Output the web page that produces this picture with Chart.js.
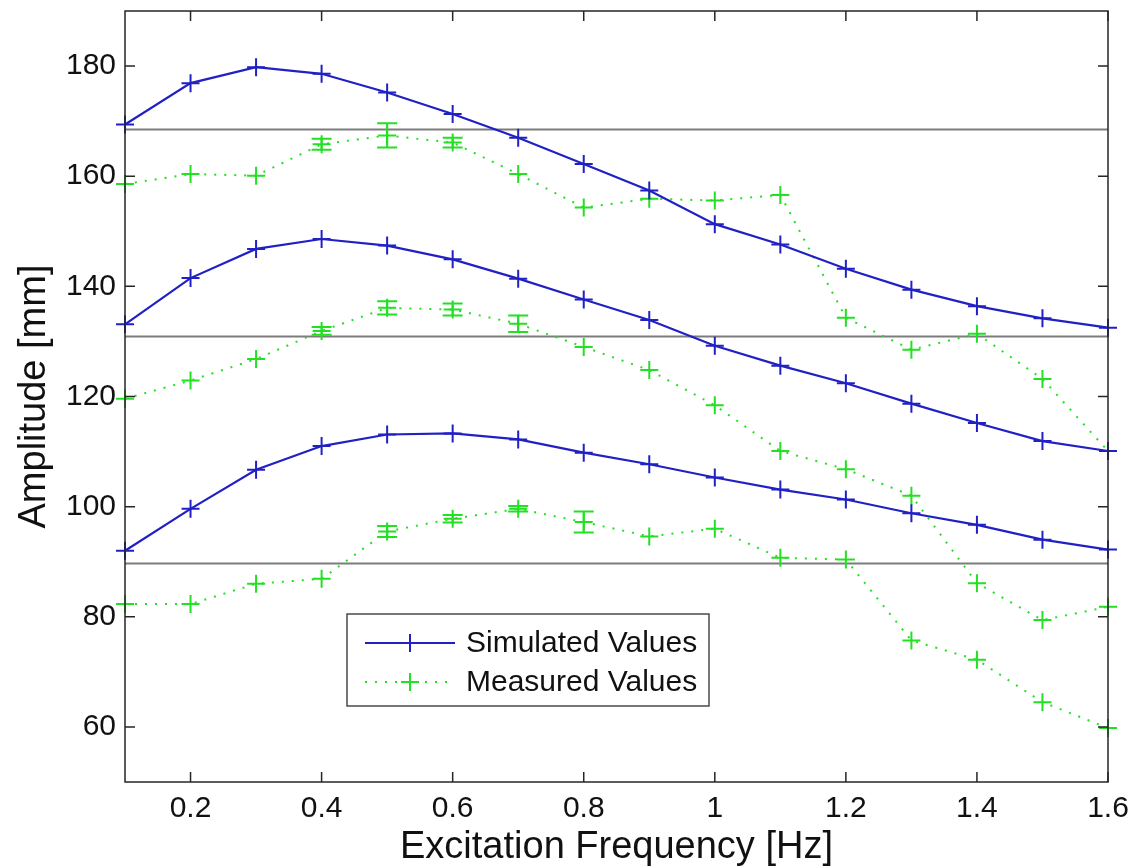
<!DOCTYPE html>
<html>
<head>
<meta charset="utf-8">
<title>Amplitude vs Excitation Frequency</title>
<script src="https://cdn.jsdelivr.net/npm/chart.js@4.4.1/dist/chart.umd.min.js"></script>
<style>
  html, body { margin: 0; padding: 0; background: #fff; }
  #wrap { width: 1134px; height: 868px; }
</style>
</head>
<body>
<div id="wrap"><canvas id="chart" width="1134" height="868"></canvas></div>
<script>
// excitation frequencies [Hz]
const freq = [0.1, 0.2, 0.3, 0.4, 0.5, 0.6, 0.7, 0.8, 0.9, 1.0, 1.1, 1.2, 1.3, 1.4, 1.5, 1.6];
const xTicks = [0.2, 0.4, 0.6, 0.8, 1, 1.2, 1.4, 1.6];
const yTicks = [60, 80, 100, 120, 140, 160, 180];

// simulated amplitudes [mm], three excitation levels
const simHigh = [169.4, 176.9, 179.8, 178.6, 175.2, 171.3, 167.0, 162.2, 157.4, 151.3, 147.6, 143.2, 139.4, 136.4, 134.2, 132.5];
const simMid  = [133.1, 141.5, 146.8, 148.6, 147.4, 144.9, 141.4, 137.6, 133.9, 129.2, 125.6, 122.4, 118.7, 115.2, 111.9, 110.1];
const simLow  = [92.0, 99.6, 106.7, 111.0, 113.1, 113.3, 112.2, 109.8, 107.7, 105.3, 103.1, 101.3, 98.8, 96.7, 94.0, 92.2];

// measured amplitudes [mm]
const measHigh = [158.6, 160.4, 160.1, 165.8, 167.4, 166.1, 160.4, 154.3, 155.9, 155.6, 156.6, 134.3, 128.5, 131.4, 123.2, 110.1];
const measMid  = [119.6, 122.9, 126.8, 131.9, 136.1, 135.8, 133.2, 129.0, 124.8, 118.4, 110.1, 106.8, 102.0, 86.1, 79.4, 81.8];
const measLow  = [82.3, 82.3, 86.0, 86.9, 95.5, 97.8, 99.6, 97.2, 94.6, 96.0, 90.7, 90.4, 75.7, 72.2, 64.5, 59.8];

// error bar half-lengths [mm] (0 = no bar)
const errHigh = [0, 0, 0, 1.0, 2.2, 0.9, 0, 0, 0, 0, 0, 0, 0, 0, 0, 0];
const errMid  = [0, 0, 0, 0.7, 1.2, 1.1, 1.5, 0, 0, 0, 0, 0, 0, 0, 0, 0];
const errLow  = [0, 0, 0, 0, 1.0, 0.7, 0.5, 1.9, 0, 0, 0, 0, 0, 0, 0, 0];

// horizontal reference levels [mm]
const refLevels = [168.5, 131.0, 89.7];

const BLUE = '#2020c4';
const GREEN = '#22e022';
const FONT = "'Liberation Sans', Arial, Helvetica, sans-serif";

function simSet(label, values) {
  return {
    label,
    data: values.map((v, i) => ({ x: freq[i], y: v })),
    borderColor: BLUE,
    backgroundColor: BLUE,
    borderWidth: 2.2,
    pointStyle: 'cross',
    pointRadius: 9,
    pointBorderWidth: 2,
    tension: 0,
    clip: false
  };
}

function measSet(label, values, errors) {
  return {
    label,
    data: values.map((v, i) => ({ x: freq[i], y: v })),
    errors,
    borderColor: GREEN,
    backgroundColor: GREEN,
    borderWidth: 2,
    borderDash: [2, 8],
    pointStyle: 'cross',
    pointRadius: 9,
    pointBorderWidth: 2,
    tension: 0,
    clip: false
  };
}

// reference lines, error bars, box with inward ticks, legend
const matlabLook = {
  id: 'matlabLook',
  beforeDatasetsDraw(chart) {
    const { ctx, chartArea: a, scales: { y } } = chart;
    ctx.save();
    ctx.strokeStyle = '#7c7c7c';
    ctx.lineWidth = 2;
    refLevels.forEach(v => {
      const py = Math.round(y.getPixelForValue(v)) + 0.5;
      ctx.beginPath();
      ctx.moveTo(a.left, py);
      ctx.lineTo(a.right, py);
      ctx.stroke();
    });
    ctx.restore();
  },
  afterDatasetsDraw(chart) {
    const { ctx, chartArea: a, scales: { x, y } } = chart;
    ctx.save();

    // error bars
    ctx.strokeStyle = GREEN;
    ctx.lineWidth = 2;
    chart.data.datasets.forEach(ds => {
      if (!ds.errors) return;
      ds.data.forEach((p, i) => {
        const e = ds.errors[i];
        if (!e) return;
        const px = x.getPixelForValue(p.x);
        const y1 = y.getPixelForValue(p.y - e);
        const y2 = y.getPixelForValue(p.y + e);
        ctx.beginPath();
        ctx.moveTo(px, y1); ctx.lineTo(px, y2);
        ctx.moveTo(px - 10, y1); ctx.lineTo(px + 10, y1);
        ctx.moveTo(px - 10, y2); ctx.lineTo(px + 10, y2);
        ctx.stroke();
      });
    });

    // axes box
    ctx.strokeStyle = '#262626';
    ctx.lineWidth = 1.5;
    ctx.strokeRect(a.left, a.top, a.right - a.left, a.bottom - a.top);

    // inward tick marks on all four sides
    const tl = 10;
    ctx.beginPath();
    xTicks.forEach(v => {
      const px = x.getPixelForValue(v);
      ctx.moveTo(px, a.bottom); ctx.lineTo(px, a.bottom - tl);
      ctx.moveTo(px, a.top); ctx.lineTo(px, a.top + tl);
    });
    yTicks.forEach(v => {
      const py = y.getPixelForValue(v);
      ctx.moveTo(a.left, py); ctx.lineTo(a.left + tl, py);
      ctx.moveTo(a.right, py); ctx.lineTo(a.right - tl, py);
    });
    ctx.stroke();

    // legend
    const lx = 347, ly = 614, lw = 362, lh = 92;
    ctx.fillStyle = '#fff';
    ctx.fillRect(lx, ly, lw, lh);
    ctx.strokeStyle = '#4a4a4a';
    ctx.lineWidth = 1.5;
    ctx.strokeRect(lx, ly, lw, lh);
    const rows = [
      { ds: chart.data.datasets[0], cy: 643, dash: [] },
      { ds: chart.data.datasets[3], cy: 682, dash: [2, 8] }
    ];
    rows.forEach(r => {
      ctx.strokeStyle = r.ds.borderColor;
      ctx.lineWidth = 2;
      ctx.setLineDash(r.dash);
      ctx.beginPath();
      ctx.moveTo(365, r.cy); ctx.lineTo(455, r.cy);
      ctx.stroke();
      ctx.setLineDash([]);
      ctx.beginPath();
      ctx.moveTo(401, r.cy); ctx.lineTo(419, r.cy);
      ctx.moveTo(410, r.cy - 9); ctx.lineTo(410, r.cy + 9);
      ctx.stroke();
      ctx.fillStyle = '#111';
      ctx.font = '30px ' + FONT;
      ctx.textBaseline = 'middle';
      ctx.textAlign = 'left';
      ctx.fillText(r.ds.label, 466, r.cy + 1);
    });
    ctx.restore();
  }
};

new Chart(document.getElementById('chart'), {
  type: 'line',
  data: {
    datasets: [
      simSet('Simulated Values', simHigh),
      simSet('Simulated Values', simMid),
      simSet('Simulated Values', simLow),
      measSet('Measured Values', measHigh, errHigh),
      measSet('Measured Values', measMid, errMid),
      measSet('Measured Values', measLow, errLow)
    ]
  },
  options: {
    responsive: false,
    animation: false,
    events: [],
    layout: { padding: { top: 6, right: 26, bottom: 0, left: 0 } },
    plugins: { legend: { display: false }, tooltip: { enabled: false } },
    scales: {
      x: {
        type: 'linear',
        min: 0.1,
        max: 1.6,
        afterBuildTicks: s => { s.ticks = xTicks.map(v => ({ value: v })); },
        afterFit: s => {
          s.height = 86;
          s.paddingLeft = 0; s.paddingRight = 0;
          s.paddingTop = 0; s.paddingBottom = 0;
        },
        grid: { display: false, drawTicks: false },
        border: { display: false },
        ticks: {
          padding: 9,
          color: '#111',
          font: { family: FONT, size: 30 },
          maxRotation: 0,
          callback: v => String(v)
        },
        title: {
          display: true,
          text: 'Excitation Frequency [Hz]',
          color: '#111',
          font: { family: FONT, size: 38, lineHeight: 1 },
          padding: { top: 0, bottom: 1 }
        }
      },
      y: {
        min: 50,
        max: 190,
        afterBuildTicks: s => { s.ticks = yTicks.map(v => ({ value: v })); },
        afterFit: s => {
          s.width = 125;
          s.paddingLeft = 0; s.paddingRight = 0;
          s.paddingTop = 0; s.paddingBottom = 0;
        },
        grid: { display: false, drawTicks: false },
        border: { display: false },
        ticks: {
          padding: 9,
          color: '#111',
          font: { family: FONT, size: 30 },
          callback: v => String(v)
        },
        title: {
          display: true,
          text: 'Amplitude [mm]',
          color: '#111',
          font: { family: FONT, size: 38, lineHeight: 1 },
          padding: { top: 16, bottom: 0 }
        }
      }
    }
  },
  plugins: [matlabLook]
});
</script>
</body>
</html>
